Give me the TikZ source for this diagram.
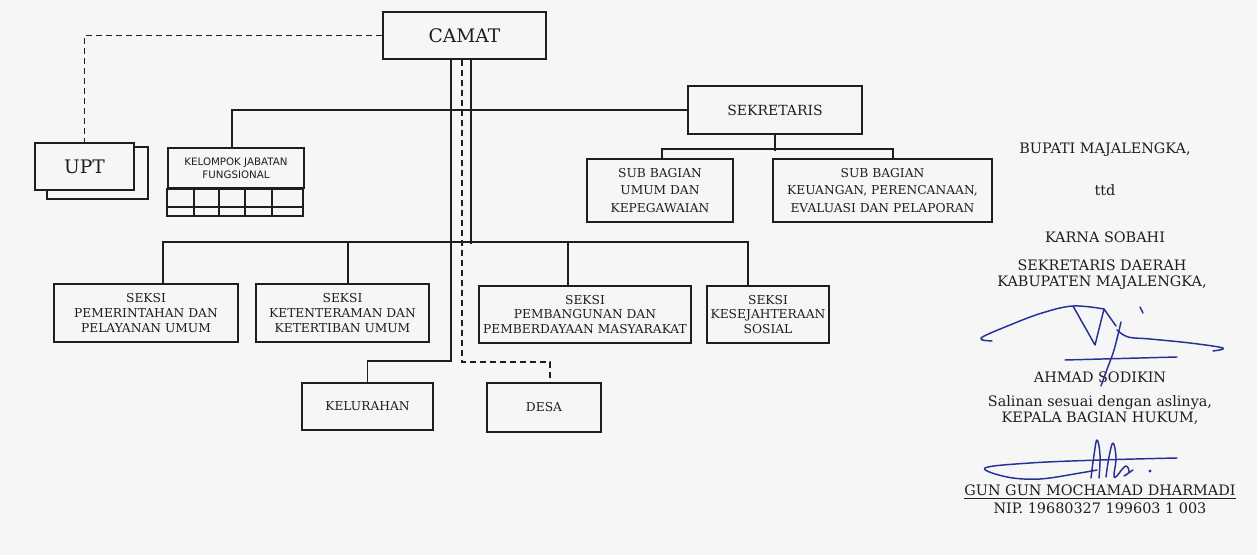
\documentclass[tikz,border=0pt]{standalone}
\usepackage{fontspec}
\setmainfont{DejaVu Serif}
\setsansfont{DejaVu Sans}
\usetikzlibrary{positioning,calc}
\definecolor{inkblue}{RGB}{38,48,150}
\definecolor{paper}{RGB}{246,246,246}
\definecolor{toner}{RGB}{30,30,30}

\begin{document}
\begin{tikzpicture}[x=0.75pt,y=-0.75pt,line width=1.15pt,draw=toner,text=toner]
\tikzstyle{unit}=[draw,align=center,inner sep=1pt,font=\fontsize{9.2}{11.2}\selectfont]
\tikzstyle{subunit}=[unit,font=\fontsize{9.2}{12.8}\selectfont,minimum height=47.25pt]
\tikzstyle{seksi}=[unit,minimum height=43.5pt]
\tikzstyle{head}=[unit,font=\fontsize{14}{16}\selectfont,minimum height=35.25pt]
\tikzstyle{sig}=[font=\fontsize{10.8}{13}\selectfont,inner sep=0pt]
\tikzstyle{link}=[dash pattern=on 4.5pt off 3pt]
\tikzstyle{ink}=[draw=inkblue,line width=1.1pt,line cap=round,line join=round]

\fill[paper] (0,0) rectangle (1257,555);

% camat, upt, kelompok jabatan fungsional
\node[head,minimum width=122.25pt] (camat) at (464.5,35.5) {CAMAT};
\node[unit,minimum width=75.75pt,minimum height=39pt] (uptback) at (97.5,173) {};
\node[head,fill=paper,minimum width=74.25pt] (upt) at (84.5,166.5) {UPT};
\node[unit,font=\sffamily\fontsize{7.7}{10}\selectfont,minimum width=102pt,minimum height=30pt] (kjf) at (236,168) {KELOMPOK JABATAN\\FUNGSIONAL};
\draw (kjf.south west) rectangle ++(136,27);
\draw (kjf.south west) ++(0,18) -- ++(136,0);
\foreach \x in {27,52,78,105}
  \draw (kjf.south west) ++(\x,0) -- ++(0,27);

% sekretariat
\node[unit,font=\fontsize{10.5}{13}\selectfont,minimum width=130.5pt,minimum height=36pt] (sek) at (775,110) {SEKRETARIS};
\node[subunit,minimum width=109.5pt] (subumum) at (660,190.5) {SUB BAGIAN\\UMUM DAN\\KEPEGAWAIAN};
\node[subunit,minimum width=164.25pt] (subkeu) at (882.5,190.5) {SUB BAGIAN\\KEUANGAN, PERENCANAAN,\\EVALUASI DAN PELAPORAN};

% seksi
\node[seksi,minimum width=138pt] (s1) at (146,313) {SEKSI\\PEMERINTAHAN DAN\\PELAYANAN UMUM};
\node[seksi,minimum width=129.75pt] (s2) at (342.5,313) {SEKSI\\KETENTERAMAN DAN\\KETERTIBAN UMUM};
\node[seksi,minimum width=159pt,minimum height=42.75pt] (s3) at (585,314.5) {SEKSI\\PEMBANGUNAN DAN\\PEMBERDAYAAN MASYARAKAT};
\node[seksi,minimum width=91.5pt,minimum height=42.75pt] (s4) at (768,314.5) {SEKSI\\KESEJAHTERAAN\\SOSIAL};

% kelurahan, desa
\node[unit,minimum width=98.25pt,minimum height=35.25pt] (kel) at (367.5,406.5) {KELURAHAN};
\node[unit,minimum width=85.5pt,minimum height=36.75pt] (desa) at (544,407.5) {DESA};

% lines
\draw[link] (camat.west) -| (upt.north);
\draw ($(kjf.north)+(-4,0)$) |- (sek.west);
\draw (sek.south) -- ++(0,16);
\draw ($(subumum.north)+(2,0)$) |- ($(subkeu.north)+(10.5,-9)$) -- ($(subkeu.north)+(10.5,0)$);
\draw ($(camat.south)+(6.5,0)$) -- ++(0,184);
\draw ($(s1.north)+(17,0)$) |- ($(s4.north)+(-20,-43)$) -- ($(s4.north)+(-20,0)$);
\draw ($(s2.north)+(5.5,0)$) -- ++(0,-41);
\draw ($(s3.north)+(-17,0)$) -- ++(0,-43);
\draw ($(camat.south)+(-13.5,0)$) |- ($(kel.north)+(0,-21)$) -- (kel.north);
\draw[link] ($(camat.south)+(-2.5,0)$) |- ($(desa.north)+(6,-20)$) -- ($(desa.north)+(6,0)$);

% pengesahan
\node[sig] (bupati) at (1105,150) {BUPATI MAJALENGKA,};
\node[sig] (ttd) at (1105,190) {ttd};
\node[sig] (karna) at (1105,237) {KARNA SOBAHI};
\node[sig] (sekda) at (1102,265) {SEKRETARIS DAERAH};
\node[sig] (kab) at (1102,283) {KABUPATEN MAJALENGKA,};
\node[sig] (ahmad) at (1100,377) {AHMAD SODIKIN};
\node[sig] (salinan) at (1100,403) {Salinan sesuai dengan aslinya,};
\node[sig] (kabag) at (1100,418) {KEPALA BAGIAN HUKUM,};
\node[sig] (gun) at (1100,492) {\underline{GUN GUN MOCHAMAD DHARMADI}};
\node[sig] (nip) at (1100,508) {NIP. 19680327 199603 1 003};

% paraf
\draw[ink] plot[smooth,tension=0.6] coordinates {(992,341) (981,338) (1010,325) (1042,313) (1073,306) (1104,309)};
\draw[ink] (1073,306) -- (1095,345) -- (1104,309) -- (1116,326);
\draw[ink] plot[smooth,tension=0.6] coordinates {(1121,322) (1114,350) (1106,372) (1101,386)};
\draw[ink] plot[smooth,tension=0.6] coordinates {(1117,330) (1128,337) (1150,339) (1190,343) (1223,348) (1213,351)};
\draw[ink] (1065,360) -- (1177,357);
\draw[ink] (1140,307) -- (1143,313);

\draw[ink] plot[smooth,tension=0.6] coordinates {(1177,458) (1100,460) (1030,463) (985,468) (1007,477) (1040,479) (1080,473) (1097,470)};
\draw[ink] plot[smooth,tension=0.7] coordinates {(1091,478) (1094,455) (1097,440) (1100,455) (1099,478)};
\draw[ink] plot[smooth,tension=0.7] coordinates {(1106,477) (1109,457) (1113,443) (1116,458) (1114,477) (1120,472)};
\draw[ink] plot[smooth,tension=0.7] coordinates {(1120,472) (1126,466) (1129,472) (1124,476) (1133,470)};
\fill[inkblue] (1150,471) circle (1.6);
\end{tikzpicture}
\end{document}
